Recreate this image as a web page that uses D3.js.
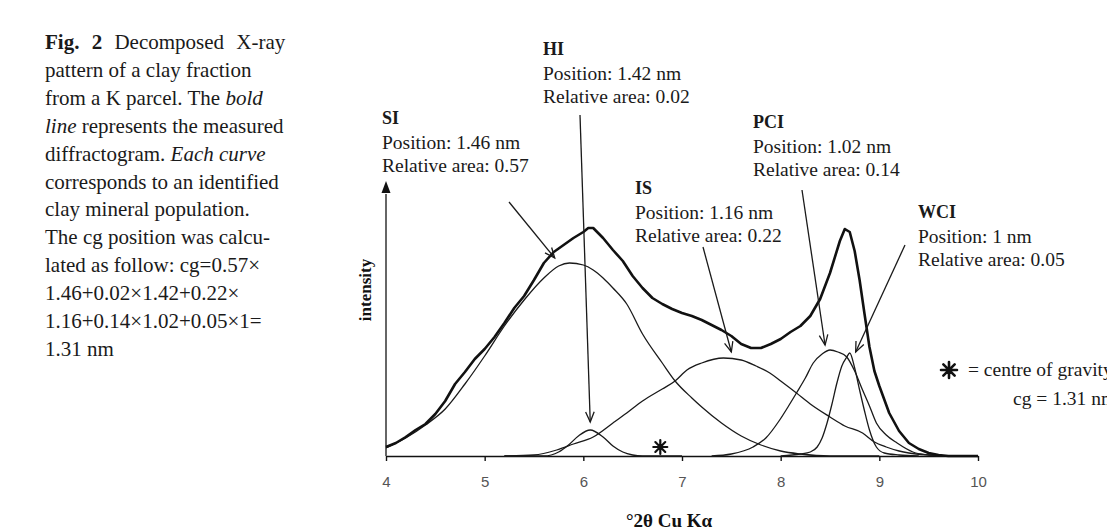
<!DOCTYPE html>
<html><head><meta charset="utf-8">
<script src="https://cdn.jsdelivr.net/npm/d3@7"></script>
<style>body{margin:0;background:#fff;} svg{display:block}</style>
</head><body><svg id="c" width="1107" height="530"></svg>
<script>
// ---------- data ----------
const xTicks = [4, 5, 6, 7, 8, 9, 10];
const measuredX = [4.0,4.1,4.2,4.3,4.4,4.5,4.6,4.7,4.8,4.9,5.0,5.1,5.2,5.3,5.4,5.5,5.6,5.7,5.8,5.9,6.0,6.05,6.1,6.2,6.3,6.4,6.5,6.6,6.7,6.8,6.9,7.0,7.1,7.2,7.3,7.4,7.5,7.6,7.7,7.8,7.9,8.0,8.1,8.2,8.3,8.4,8.5,8.6,8.65,8.7,8.75,8.8,8.85,8.9,8.95,9.0,9.1,9.2,9.3,9.4,9.5,9.6,9.7,10.0];
const measuredY = [9,13,19,26,32,42,55,72,84,97,107,119,133,148,160,176,193,204,211,218,224,228,228,218,206,195,180,168,158,152,147,143,140,136,131,126,120,112,108,108,112,117,124,130,140,157,183,215,227,224,205,176,142,109,85,70,43,25,13,7,3,1,0,0];
const siX = [4.0,4.2,4.4,4.6,4.8,5.0,5.2,5.4,5.6,5.75,5.86,6.0,6.1,6.2,6.3,6.44,6.6,6.8,6.93,7.1,7.2,7.4,7.6,7.8,8.0,8.2,8.5,9.0];
const siY = [8,18,31,47,72,100,130,156,178,190,193,191,186,178,168,152,122,93,75,58,49,33,20,11,5,2,0,0];
const hiX = [5.2,5.6,5.75,5.85,5.95,6.07,6.2,6.3,6.4,6.5,6.6,7.0];
const hiY = [0,0,4,11,20,26,19,10,4,1,0,0];
const isX = [5.2,5.5,5.73,5.9,6.1,6.3,6.44,6.6,6.8,6.93,7.05,7.2,7.42,7.6,7.75,7.89,8.0,8.16,8.3,8.5,8.65,8.83,8.95,9.07,9.2,9.3,9.5,9.7];
const isY = [0,1,6,12,19,33,43,55,67,75,86,93,98,96,90,83,75,63,52,39,30,23,14,9,5,3,1,0];
const pciX = [7.3,7.5,7.72,7.85,7.99,8.08,8.16,8.25,8.33,8.42,8.5,8.58,8.67,8.75,8.83,8.9,8.97,9.07,9.18,9.34,9.5,9.7];
const pciY = [0,2,9,18,36,50,63,78,93,102,106,104,99,85,66,50,33,21,13,4,1,0];
const wciX = [8.0,8.2,8.3,8.37,8.42,8.47,8.52,8.57,8.62,8.67,8.70,8.75,8.80,8.85,8.9,8.97,9.05,9.2,9.4];
const wciY = [0,2,4,9,18,33,52,73,90,99,103,88,66,45,26,9,3,1,0];
const componentNames = ["SI", "HI", "IS", "PCI", "WCI"];
const componentPositions = ["1.46 nm", "1.42 nm", "1.16 nm", "1.02 nm", "1 nm"];
const componentAreas = ["0.57", "0.02", "0.22", "0.14", "0.05"];
const cgTheta = 6.78;
const cgText = "cg = 1.31 nm";

// ---------- layout ----------
const svg = d3.select("#c");
const x = d3.scaleLinear().domain([4, 10]).range([386, 978]);
const y = d3.scaleLinear().domain([0, 275]).range([456, 181]);
const serif = "'Liberation Serif','Times New Roman',serif";
const sans = "'Liberation Sans',Arial,sans-serif";

// caption
const caption = [
  [["Fig. 2", "b"], [" Decomposed X-ray", ""]],
  [["pattern of a clay fraction", ""]],
  [["from a K parcel. The ", ""], ["bold", "i"]],
  [["line", "i"], [" represents the measured", ""]],
  [["diffractogram. ", ""], ["Each curve", "i"]],
  [["corresponds to an identified", ""]],
  [["clay mineral population.", ""]],
  [["The cg position was calcu-", ""]],
  [["lated as follow: cg=0.57\u00d7", ""]],
  [["1.46+0.02\u00d71.42+0.22\u00d7", ""]],
  [["1.16+0.14\u00d71.02+0.05\u00d71=", ""]],
  [["1.31 nm", ""]]
];
const cap = svg.append("g").attr("font-family", serif).attr("font-size", 21).attr("fill", "#1a1a1a");
caption.forEach((line, i) => {
  const t = cap.append("text").attr("x", 45).attr("y", 49 + i * 27.9).attr("xml:space", "preserve");
  line.forEach(([s, st]) => {
    const ts = t.append("tspan").text(s);
    if (st === "b") ts.attr("font-weight", "bold");
    if (st === "i") ts.attr("font-style", "italic");
  });
  if (i === 0) t.attr("word-spacing", 7);
});

// axes
const xAxis = d3.axisBottom(x).tickValues(xTicks).tickFormat(d3.format("d"))
  .tickSize(5).tickSizeOuter(0).tickPadding(15);
const gx = svg.append("g").attr("transform", `translate(0,${y(0)})`).call(xAxis);
gx.select(".domain").attr("stroke", "#111").attr("stroke-width", 1.6);
gx.selectAll(".tick line").attr("stroke", "#111").attr("stroke-width", 1.4);
gx.selectAll(".tick text").attr("font-family", sans).attr("font-size", 15).attr("fill", "#555");

// y axis arrow
svg.append("line").attr("x1", x(4)).attr("x2", x(4)).attr("y1", y(0)).attr("y2", y(262))
  .attr("stroke", "#666").attr("stroke-width", 2);
svg.append("path").attr("d", `M${x(4)},${y(275)}L${x(4) - 4.5},${y(263)}L${x(4) + 4.5},${y(263)}Z`).attr("fill", "#111");
svg.append("text").attr("transform", `translate(371,290) rotate(-90)`)
  .attr("text-anchor", "middle").attr("font-family", serif).attr("font-weight", "bold")
  .attr("font-size", 17).attr("fill", "#111").text("intensity");

// x title
svg.append("text").attr("x", 669).attr("y", 527).attr("text-anchor", "middle")
  .attr("font-family", serif).attr("font-weight", "bold").attr("font-size", 19).attr("fill", "#111")
  .text("\u00b02\u03b8 Cu K\u03b1");

// component curves
const thin = d3.line().x(d => x(d[0])).y(d => y(d[1])).curve(d3.curveMonotoneX);
[[siX, siY], [hiX, hiY], [isX, isY], [pciX, pciY], [wciX, wciY]].forEach(([xs, ys]) => {
  svg.append("path").datum(xs.map((v, i) => [v, ys[i]])).attr("d", thin)
    .attr("fill", "none").attr("stroke", "#1a1a1a").attr("stroke-width", 1.3);
});
// measured
const bold = d3.line().x(d => x(d[0])).y(d => y(d[1]));
svg.append("path").datum(measuredX.map((v, i) => [v, measuredY[i]])).attr("d", bold)
  .attr("fill", "none").attr("stroke", "#111").attr("stroke-width", 2.6).attr("stroke-linejoin", "round");

// annotations
const labelPos = [[382, 124], [543, 55], [635, 194], [753, 128], [918, 218]];
const arrowFrom = [[509, 202], [580, 115], [703, 247], [802, 190], [905, 245]];
const arrowTo = [[5.71, 198], [6.07, 34], [7.5, 104], [8.45, 111], [8.76, 104]];
const ann = svg.append("g").attr("font-family", serif).attr("font-size", 19.5).attr("fill", "#1a1a1a");
componentNames.forEach((n, i) => {
  const [lx, ly] = labelPos[i];
  ann.append("text").attr("x", lx).attr("y", ly).attr("font-weight", "bold").attr("font-size", 18).text(n);
  ann.append("text").attr("x", lx).attr("y", ly + 25).text("Position: " + componentPositions[i]);
  ann.append("text").attr("x", lx).attr("y", ly + 48).text("Relative area: " + componentAreas[i]);
  const [x0, y0] = arrowFrom[i];
  const x1 = x(arrowTo[i][0]), y1 = y(arrowTo[i][1]);
  svg.append("line").attr("x1", x0).attr("y1", y0).attr("x2", x1).attr("y2", y1)
    .attr("stroke", "#1a1a1a").attr("stroke-width", 1.3);
  const a = Math.atan2(y1 - y0, x1 - x0), L = 11, w = 0.4;
  svg.append("path").attr("d", `M${x1 - L * Math.cos(a - w)},${y1 - L * Math.sin(a - w)}L${x1},${y1}L${x1 - L * Math.cos(a + w)},${y1 - L * Math.sin(a + w)}`)
    .attr("fill", "none").attr("stroke", "#1a1a1a").attr("stroke-width", 1.3);
});

// asterisk markers
function star(cx, cy, r, sw) {
  let d = "";
  for (let k = 0; k < 4; k++) {
    const a = k * Math.PI / 4;
    d += `M${cx - r * Math.cos(a)},${cy - r * Math.sin(a)}L${cx + r * Math.cos(a)},${cy + r * Math.sin(a)}`;
  }
  svg.append("path").attr("d", d).attr("stroke", "#111").attr("stroke-width", sw).attr("stroke-linecap", "round");
}
star(x(cgTheta), y(9), 7, 2.2);
star(949, 370, 8, 2.6);
svg.append("text").attr("x", 968).attr("y", 376).attr("font-family", serif).attr("font-size", 19.5).attr("fill", "#1a1a1a")
  .text("= centre of gravity");
svg.append("text").attr("x", 1013).attr("y", 405).attr("font-family", serif).attr("font-size", 19.5).attr("fill", "#1a1a1a")
  .text(cgText);
</script></body></html>
